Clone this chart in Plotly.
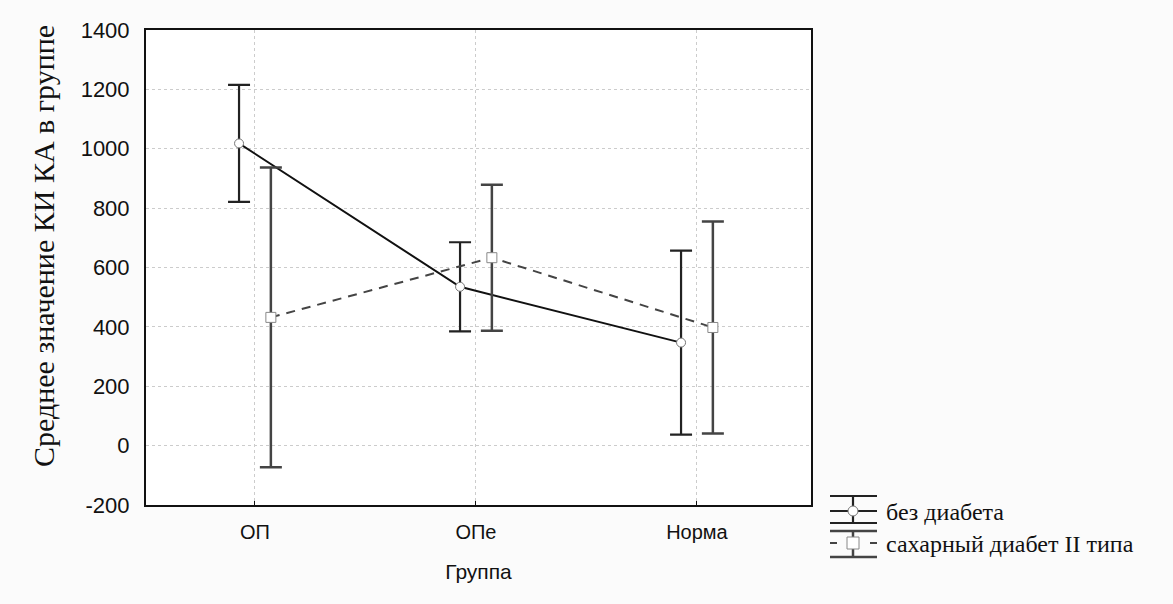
import plotly.graph_objects as go

# Groups on the x axis
groups = ["ОП", "ОПе", "Норма"]
group_pos = [0, 1, 2]

# Mean KI KA per group and half-width of the interval
no_diabetes_mean = [1018, 535, 347]
no_diabetes_err = [197, 150, 310]

diabetes2_mean = [432, 633, 398]
diabetes2_err = [505, 246, 357]

series_names = ["без диабета", "сахарный диабет II типа"]
y_title = "Среднее значение КИ КА в группе"
x_title = "Группа"

y_ticks = [-200, 0, 200, 400, 600, 800, 1000, 1200, 1400]
y_tick_text = ["-200", "0", "200", "400", "600", "800", "1000", "1200", "1400"]

# horizontal shift of each series around the group position
shift = 0.072

W, H = 1173, 604
ML, MR, MT, MB = 146, 362, 30, 99

fig = go.Figure()

fig.add_trace(go.Scatter(
    x=[p - shift for p in group_pos],
    y=no_diabetes_mean,
    mode="lines+markers",
    name=series_names[0],
    line=dict(color="#111111", width=2),
    marker=dict(symbol="circle", size=9, color="white",
                line=dict(color="#777777", width=1)),
    error_y=dict(type="data", array=no_diabetes_err, visible=True,
                 color="#222222", thickness=2.2, width=11),
    showlegend=False,
))

fig.add_trace(go.Scatter(
    x=[p + shift for p in group_pos],
    y=diabetes2_mean,
    mode="lines+markers",
    name=series_names[1],
    line=dict(color="#444444", width=2, dash="9px,7px"),
    marker=dict(symbol="square", size=10, color="white",
                line=dict(color="#888888", width=1)),
    error_y=dict(type="data", array=diabetes2_err, visible=True,
                 color="#444444", thickness=2.5, width=11),
    showlegend=False,
))

# Hand-drawn legend with error-bar glyphs (pixel positions -> paper units)
pw = W - ML - MR
ph = H - MT - MB


def px(x):
    return (x - ML) / pw


def py(y):
    return (H - MB - y) / ph


lx0, lx1, lxm = 830, 877, 853

shapes = []
# glyph 1: solid
for y in (496, 511, 523):
    shapes.append(dict(type="line", xref="paper", yref="paper",
                       x0=px(lx0), x1=px(lx1), y0=py(y), y1=py(y),
                       line=dict(color="#222222", width=2.2)))
shapes.append(dict(type="line", xref="paper", yref="paper",
                   x0=px(lxm), x1=px(lxm), y0=py(496), y1=py(523),
                   line=dict(color="#222222", width=2.2)))
shapes.append(dict(type="circle", xref="paper", yref="paper",
                   x0=px(lxm - 5), x1=px(lxm + 5), y0=py(516), y1=py(506),
                   fillcolor="white", line=dict(color="#777777", width=1)))
# glyph 2: dashed
for y in (531, 557):
    shapes.append(dict(type="line", xref="paper", yref="paper",
                       x0=px(lx0), x1=px(lx1), y0=py(y), y1=py(y),
                       line=dict(color="#444444", width=2.5)))
shapes.append(dict(type="line", xref="paper", yref="paper",
                   x0=px(lxm), x1=px(lxm), y0=py(531), y1=py(557),
                   line=dict(color="#444444", width=2.5)))
for a, b in ((lx0, lx0 + 7), (lx1 - 7, lx1)):
    shapes.append(dict(type="line", xref="paper", yref="paper",
                       x0=px(a), x1=px(b), y0=py(543), y1=py(543),
                       line=dict(color="#444444", width=2)))
shapes.append(dict(type="rect", xref="paper", yref="paper",
                   x0=px(lxm - 6), x1=px(lxm + 6), y0=py(549), y1=py(537),
                   fillcolor="white", line=dict(color="#888888", width=1)))

serif = dict(family="Liberation Serif", color="#111111")

annotations = [
    dict(text=series_names[0], x=px(884), y=py(512), xref="paper", yref="paper",
         xanchor="left", yanchor="middle", showarrow=False,
         font=dict(serif, size=24)),
    dict(text=series_names[1], x=px(884), y=py(544), xref="paper", yref="paper",
         xanchor="left", yanchor="middle", showarrow=False,
         font=dict(serif, size=24)),
    # vertical axis title, placed a little above the plot centre
    dict(text=y_title, x=px(44), y=py(246), xref="paper", yref="paper",
         xanchor="center", yanchor="middle", showarrow=False, textangle=-90,
         font=dict(serif, size=30)),
]

fig.update_layout(
    width=W, height=H,
    margin=dict(l=ML, r=MR, t=MT, b=MB),
    paper_bgcolor="#fbfbfb",
    plot_bgcolor="white",
    shapes=shapes,
    annotations=annotations,
    xaxis=dict(
        range=[-0.493, 2.516],
        tickmode="array", tickvals=group_pos, ticktext=groups,
        ticks="inside", ticklen=4, tickcolor="#111111",
        ticklabelstandoff=8,
        showgrid=True, gridcolor="#cccccc", griddash="dot", gridwidth=1,
        showline=True, linecolor="#111111", linewidth=2, mirror=True,
        zeroline=False,
        tickfont=dict(family="Liberation Sans", size=20, color="#111111"),
        title=dict(text=x_title, standoff=22,
                   font=dict(family="Liberation Sans", size=21, color="#111111")),
    ),
    yaxis=dict(
        range=[-200, 1400],
        tickmode="array", tickvals=y_ticks, ticktext=y_tick_text,
        ticks="", ticklabelstandoff=10,
        showgrid=True, gridcolor="#cccccc", griddash="dot", gridwidth=1,
        showline=True, linecolor="#111111", linewidth=2, mirror=True,
        zeroline=False,
        tickfont=dict(family="Liberation Sans", size=22, color="#111111"),
    ),
)

fig.write_html("out.html")
